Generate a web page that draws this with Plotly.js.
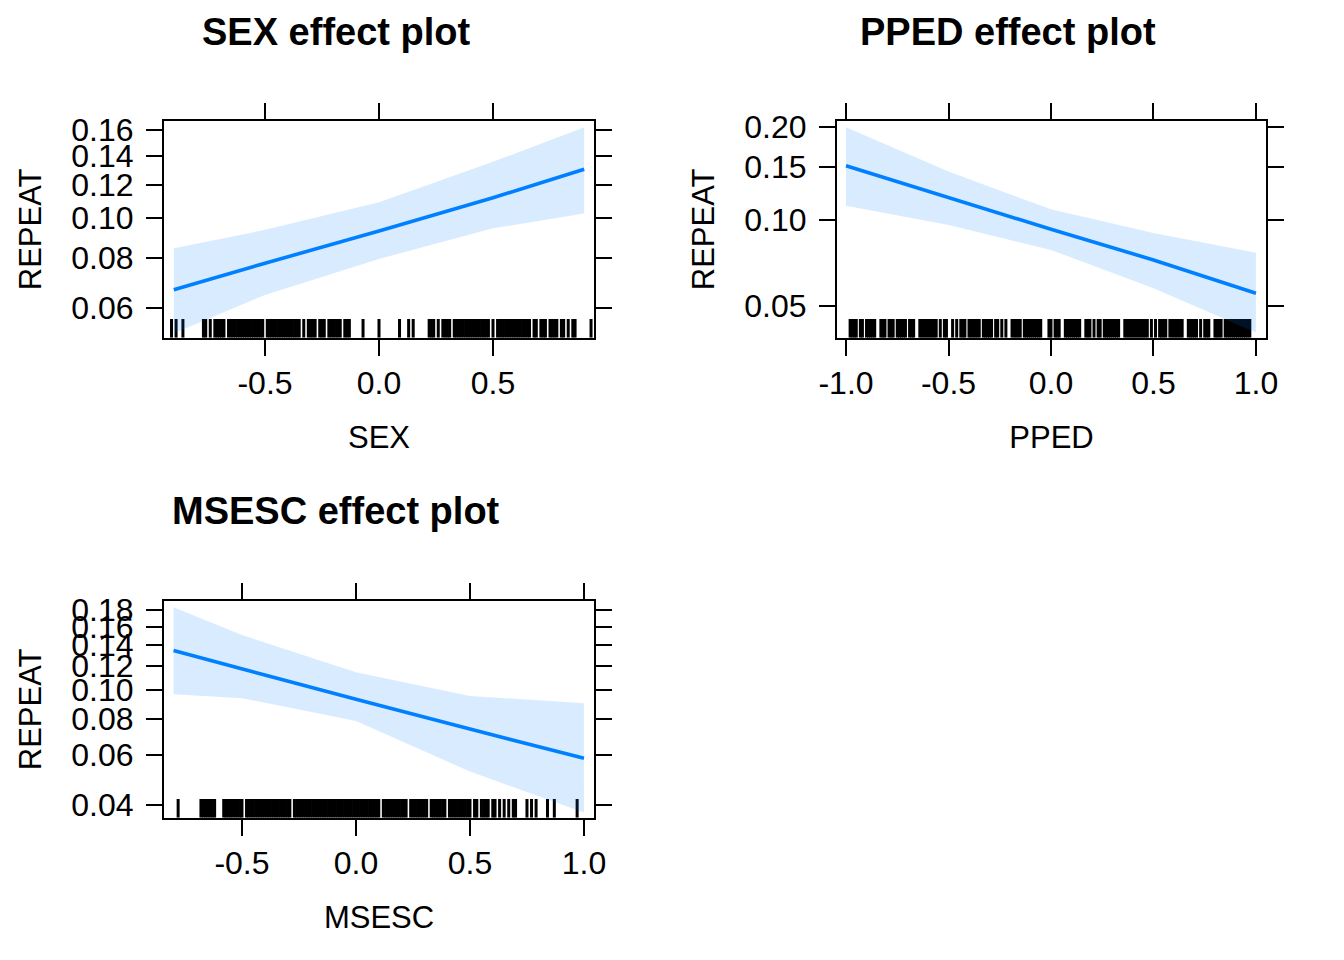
<!DOCTYPE html>
<html>
<head>
<meta charset="utf-8">
<script src="https://cdn.plot.ly/plotly-3.0.1.min.js"></script>
<style>html,body{margin:0;padding:0;background:#fff;}#chart{width:1344px;height:960px;}</style>
</head>
<body>
<div id="chart"></div>
<script>
// ---- SEX effect ----
const sexX = [-0.9, -0.5, 0.0, 0.5, 0.9];
const sexFit = [0.0667, 0.0776, 0.0930, 0.1117, 0.1302];
const sexUpper = [0.0844, 0.0936, 0.1089, 0.1355, 0.1622];
const sexLower = [0.0519, 0.0648, 0.0795, 0.0944, 0.1024];
const sexRug = [-0.91,-0.89,-0.86,
 -0.77,-0.76,-0.74,-0.72,-0.71,-0.70,-0.69,-0.68,-0.66,-0.65,-0.64,-0.63,-0.62,-0.61,-0.60,-0.59,-0.58,-0.57,-0.56,-0.55,-0.54,-0.53,-0.52,-0.51,-0.49,-0.48,-0.47,-0.46,-0.45,-0.44,-0.43,-0.42,-0.41,-0.40,-0.39,-0.38,-0.37,-0.36,-0.35,-0.33,-0.31,-0.30,-0.29,-0.28,-0.26,-0.25,-0.24,-0.22,-0.21,-0.20,-0.19,-0.18,-0.17,-0.15,-0.14,-0.13,
 -0.07,0.00,0.09,0.13,0.15,
 0.22,0.23,0.24,0.26,0.28,0.29,0.30,0.31,0.33,0.34,0.35,0.36,0.37,0.38,0.39,0.40,0.41,0.42,0.43,0.44,0.45,0.46,0.47,0.48,0.50,0.52,0.53,0.54,0.55,0.56,0.57,0.58,0.59,0.60,0.61,0.62,0.63,0.64,0.65,0.66,0.68,0.69,0.71,0.72,0.73,0.75,0.76,0.77,0.78,0.80,0.81,0.83,0.85,0.86,
 0.93];
const sexXTicks = [-0.5, 0.0, 0.5];
const sexXTickText = ['-0.5', '0.0', '0.5'];
const sexYTicks = [0.06, 0.08, 0.10, 0.12, 0.14, 0.16];
const sexYTickText = ['0.06', '0.08', '0.10', '0.12', '0.14', '0.16'];

// ---- PPED effect ----
const ppedX = [-1.0, -0.5, 0.0, 0.5, 1.0];
const ppedFit = [0.1512, 0.1190, 0.0930, 0.0728, 0.0555];
const ppedUpper = [0.1991, 0.1447, 0.1087, 0.0902, 0.0772];
const ppedLower = [0.1117, 0.0962, 0.0789, 0.0579, 0.0401];
const ppedRug = [-0.98,-0.97,-0.96,-0.95,-0.93,-0.92,-0.90,-0.89,-0.88,-0.87,-0.86,-0.83,-0.82,-0.81,-0.79,-0.78,-0.77,-0.75,-0.74,-0.73,-0.72,-0.71,-0.69,-0.68,-0.67,-0.64,-0.63,-0.62,-0.61,-0.60,-0.59,-0.58,-0.57,-0.56,-0.54,-0.52,-0.51,-0.48,-0.46,-0.44,-0.43,-0.42,-0.40,-0.39,-0.38,-0.37,-0.36,-0.35,-0.33,-0.32,-0.31,-0.30,-0.29,-0.27,-0.26,-0.24,-0.22,-0.19,-0.18,-0.17,-0.16,-0.15,-0.13,-0.12,-0.11,-0.10,-0.09,-0.08,-0.07,-0.06,-0.05,-0.01,0.00,0.02,0.03,0.04,0.07,0.08,0.09,0.10,0.11,0.12,0.13,0.14,0.17,0.18,0.19,0.21,0.23,0.24,0.26,0.27,0.28,0.29,0.30,0.31,0.32,0.33,0.36,0.37,0.38,0.39,0.40,0.41,0.42,0.43,0.44,0.45,0.46,0.47,0.49,0.51,0.53,0.54,0.55,0.56,0.58,0.59,0.60,0.61,0.62,0.63,0.64,0.67,0.68,0.69,0.70,0.71,0.73,0.75,0.76,0.77,0.80,0.81,0.82,0.83,0.85,0.86,0.87,0.88,0.89,0.90,0.91,0.92,0.93,0.94,0.95,0.96,0.97];
const ppedXTicks = [-1.0, -0.5, 0.0, 0.5, 1.0];
const ppedXTickText = ['-1.0', '-0.5', '0.0', '0.5', '1.0'];
const ppedYTicks = [0.05, 0.10, 0.15, 0.20];
const ppedYTickText = ['0.05', '0.10', '0.15', '0.20'];

// ---- MSESC effect ----
const msescX = [-0.8, -0.5, 0.0, 0.5, 1.0];
const msescFit = [0.1344, 0.1172, 0.0931, 0.0737, 0.0584];
const msescUpper = [0.1835, 0.1507, 0.1143, 0.0955, 0.0902];
const msescLower = [0.0967, 0.0938, 0.0786, 0.0525, 0.0376];
const msescRug = [-0.78,
 -0.68,-0.67,-0.66,-0.65,-0.64,-0.63,-0.62,
 -0.58,-0.57,-0.56,-0.55,-0.54,-0.53,-0.52,-0.51,-0.50,-0.48,-0.47,-0.46,-0.45,-0.44,-0.43,-0.42,-0.41,-0.40,-0.39,-0.38,-0.37,-0.36,-0.35,-0.34,-0.33,-0.32,-0.31,-0.30,-0.29,-0.27,-0.26,-0.25,-0.24,-0.23,-0.22,-0.21,-0.20,-0.19,-0.18,-0.17,-0.16,-0.15,-0.14,-0.13,-0.12,-0.11,-0.10,-0.09,-0.08,-0.07,-0.06,-0.05,-0.04,-0.03,-0.02,-0.01,0.00,0.01,0.02,0.03,0.04,0.05,0.06,0.07,0.08,0.09,0.10,0.12,0.13,0.14,0.15,0.16,0.17,0.18,0.19,0.20,0.21,0.22,0.24,0.25,0.26,0.27,0.28,0.29,0.30,0.31,0.33,0.34,0.35,0.36,0.37,0.38,0.39,0.41,0.42,0.43,0.44,0.45,0.46,0.47,0.48,0.49,0.50,0.52,0.53,0.55,0.56,0.57,0.58,0.60,0.61,0.63,0.65,0.67,0.69,0.70,
 0.75,0.77,0.79,0.84,0.87,0.97];
const msescXTicks = [-0.5, 0.0, 0.5, 1.0];
const msescXTickText = ['-0.5', '0.0', '0.5', '1.0'];
const msescYTicks = [0.04, 0.06, 0.08, 0.10, 0.12, 0.14, 0.16, 0.18];
const msescYTickText = ['0.04', '0.06', '0.08', '0.10', '0.12', '0.14', '0.16', '0.18'];

const titles = ['SEX effect plot', 'PPED effect plot', 'MSESC effect plot'];
const xTitles = ['SEX', 'PPED', 'MSESC'];
const yTitle = 'REPEAT';

// ---- build ----
const logit = p => Math.log(p / (1 - p));
const W = 1344, H = 960;
const FONT = 'Liberation Sans, Arial, Helvetica, sans-serif';
const LINE = '#0080FF';
const BAND = 'rgba(0,128,255,0.15)';

const panels = [
  {x: sexX, fit: sexFit, up: sexUpper, lo: sexLower, rug: sexRug,
   xt: sexXTicks, xtt: sexXTickText, yt: sexYTicks, ytt: sexYTickText,
   xr: [-0.943, 0.943], yr: [-2.932, -1.603],
   box: [164, 594, 121, 337.7]},
  {x: ppedX, fit: ppedFit, up: ppedUpper, lo: ppedLower, rug: ppedRug,
   xt: ppedXTicks, xtt: ppedXTickText, yt: ppedYTicks, ytt: ppedYTickText,
   xr: [-1.044, 1.049], yr: [-3.220, -1.337],
   box: [837, 1266, 121, 337.7]},
  {x: msescX, fit: msescFit, up: msescUpper, lo: msescLower, rug: msescRug,
   xt: msescXTicks, xtt: msescXTickText, yt: msescYTicks, ytt: msescYTickText,
   xr: [-0.842, 1.044], yr: [-3.286, -1.440],
   box: [164, 594, 601, 817.7]}
];

const traces = [];
const layout = {
  width: W, height: H,
  margin: {l: 0, r: 0, t: 0, b: 0},
  paper_bgcolor: 'white', plot_bgcolor: 'white',
  showlegend: false,
  font: {family: FONT, color: 'black'},
  annotations: []
};

panels.forEach((p, i) => {
  const n = i === 0 ? '' : String(i + 1);
  const xa = 'x' + n, ya = 'y' + n;
  const rugFrac = 18.7 / 216.7;
  const rugBot = p.yr[0];
  const rugTop = p.yr[0] + rugFrac * (p.yr[1] - p.yr[0]);
  const rx = [], ry = [];
  p.rug.forEach(v => { rx.push(v, v, null); ry.push(rugBot, rugTop, null); });
  traces.push({type: 'scatter', mode: 'lines', x: rx, y: ry, xaxis: xa, yaxis: ya,
    line: {color: 'black', width: 3}, hoverinfo: 'skip', connectgaps: false});
  traces.push({type: 'scatter', mode: 'lines', xaxis: xa, yaxis: ya,
    x: p.x.concat(p.x.slice().reverse()),
    y: p.up.map(logit).concat(p.lo.map(logit).reverse()),
    fill: 'toself', fillcolor: BAND, line: {width: 0, color: BAND}, hoverinfo: 'skip'});
  traces.push({type: 'scatter', mode: 'lines', xaxis: xa, yaxis: ya,
    x: p.x, y: p.fit.map(logit), line: {color: LINE, width: 3.6}});

  const common = {
    showline: true, linecolor: 'black', linewidth: 2, mirror: 'ticks',
    ticks: 'outside', ticklen: 16, tickwidth: 2, tickcolor: 'black',
    showgrid: false, zeroline: false, fixedrange: true,
    tickfont: {family: FONT, size: 32, color: 'black'}
  };
  layout['xaxis' + n] = Object.assign({}, common, {
    anchor: ya, range: p.xr,
    domain: [p.box[0] / W, p.box[1] / W],
    tickmode: 'array', tickvals: p.xt, ticktext: p.xtt,
    ticklabelstandoff: 0,
    title: {text: xTitles[i], font: {family: FONT, size: 31, color: 'black'}, standoff: 26}
  });
  layout['yaxis' + n] = Object.assign({}, common, {
    anchor: xa, range: p.yr,
    domain: [1 - p.box[3] / H, 1 - p.box[2] / H],
    tickmode: 'array', tickvals: p.yt.map(logit), ticktext: p.ytt,
    ticklabelstandoff: 6,
    title: {text: yTitle, font: {family: FONT, size: 31, color: 'black'}, standoff: 20}
  });
  const tx = i === 1 ? 0.75 : 0.25;
  const ty = i === 2 ? 511 : 32;
  layout.annotations.push({
    xref: 'paper', yref: 'paper', x: tx, y: 1 - ty / H,
    xanchor: 'center', yanchor: 'middle', showarrow: false,
    text: '<b>' + titles[i] + '</b>',
    font: {family: FONT, size: 38, color: 'black'}
  });
});

Plotly.newPlot('chart', traces, layout, {staticPlot: true, displayModeBar: false});
</script>
</body>
</html>
